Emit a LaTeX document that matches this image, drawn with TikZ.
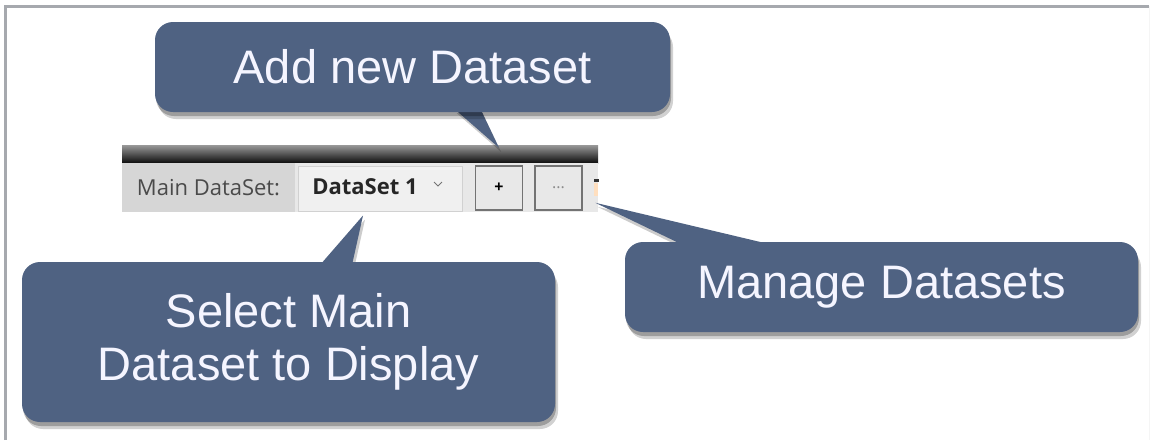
\documentclass[tikz,border=0pt]{standalone}
\usepackage{fontspec}
\setmainfont{Liberation Sans}
\newfontfamily\uifont{Open Sans}
\usetikzlibrary{shadows,calc}

\definecolor{calloutblue}{HTML}{4F6282}
\definecolor{framegray}{HTML}{A6A9AE}
\definecolor{uitext}{HTML}{4A4A4A}

\begin{document}
\begin{tikzpicture}[x=1pt, y=-1pt, inner sep=0pt,
	callout/.style={rectangle, rounded corners=18pt, fill=calloutblue, text=white!96!blue,
		font=\fontsize{47}{53}\selectfont, align=center,
		drop shadow={shadow xshift=3pt, shadow yshift=-7pt, opacity=0.18, fill=black},
		drop shadow={shadow xshift=1pt, shadow yshift=-4pt, opacity=0.25, fill=black}},
	tail/.style={fill=calloutblue,
		drop shadow={shadow xshift=2pt, shadow yshift=-4pt, opacity=0.2, fill=black}},
	uibutton/.style={draw=black!55, line width=1.5pt, fill=black!9, minimum width=47pt,
		minimum height=44pt, font=\uifont\fontsize{16}{16}\selectfont}]

	\useasboundingbox (0,0) rectangle (1153,440);

	% Rahmen
	\draw[black!4, line width=1pt] (1149,6) -- (1149,440);
	\draw[framegray, line width=3pt] (5,440) -- (5,6) -- (1149,6);

	% Werkzeugleiste
	\node[minimum width=476pt, minimum height=18pt, top color=black!40, bottom color=black!95](bar) at (360,154) {};
	\node[minimum width=476pt, minimum height=49pt, fill=black!9](panel) at (360,187.5) {};
	\node[minimum width=173pt, minimum height=49pt, fill=black!16, text=uitext,
		font=\uifont\fontsize{22}{22}\selectfont](lbl) at (208.5,187.5) {Main DataSet:};
	\node[minimum width=164pt, minimum height=45pt, fill=black!6, draw=black!18, line width=1pt](combo) at (380,188.5) {};
	\node[font=\uifont\bfseries\fontsize{22}{22}\selectfont, text=black!85](combotext) at (365,187) {DataSet 1};
	\draw[black!55, line width=1pt] (434,182) -- (438,186) -- (442,182);
	\node[uibutton](plus) at (499,188) {\textbf{+}};
	\node[uibutton, text=black!45](dots) at (558.5,188) {...};
	\fill[black!80] (594,179) rectangle (599,182);
	\fill[orange!25] (594,183) rectangle (598,196);

	% Spitzen
	\coordinate (tipadd) at ($(plus.north |- bar.north)+(0,3)$);
	\coordinate (tipselect) at ($(combo.south)+(-17,4)$);
	\coordinate (tipmanage) at ($(dots.south east)+(12.5,-8)$);

	\path (412.5,67) coordinate (addc) (288.5,342) coordinate (selectc) (881.5,287) coordinate (managec);

	\fill[tail] ($(addc)+(42,42)$) -- (tipadd) -- ($(addc)+(68,42)$) -- cycle;
	\fill[tail] ($(selectc)+(31.5,-77)$) -- (tipselect) -- ($(selectc)+(63.5,-77)$) -- cycle;
	\fill[tail] ($(managec)+(-198.5,-42)$) -- (tipmanage) -- ($(managec)+(-108.5,-42)$) -- cycle;

	\node[callout, minimum width=515pt, minimum height=90pt](add) at (addc) {Add new Dataset};
	\node[callout, minimum width=533pt, minimum height=160pt](select) at (selectc) {Select Main\\Dataset to Display};
	\node[callout, minimum width=513pt, minimum height=90pt](manage) at (managec) {Manage Datasets};
\end{tikzpicture}
\end{document}
